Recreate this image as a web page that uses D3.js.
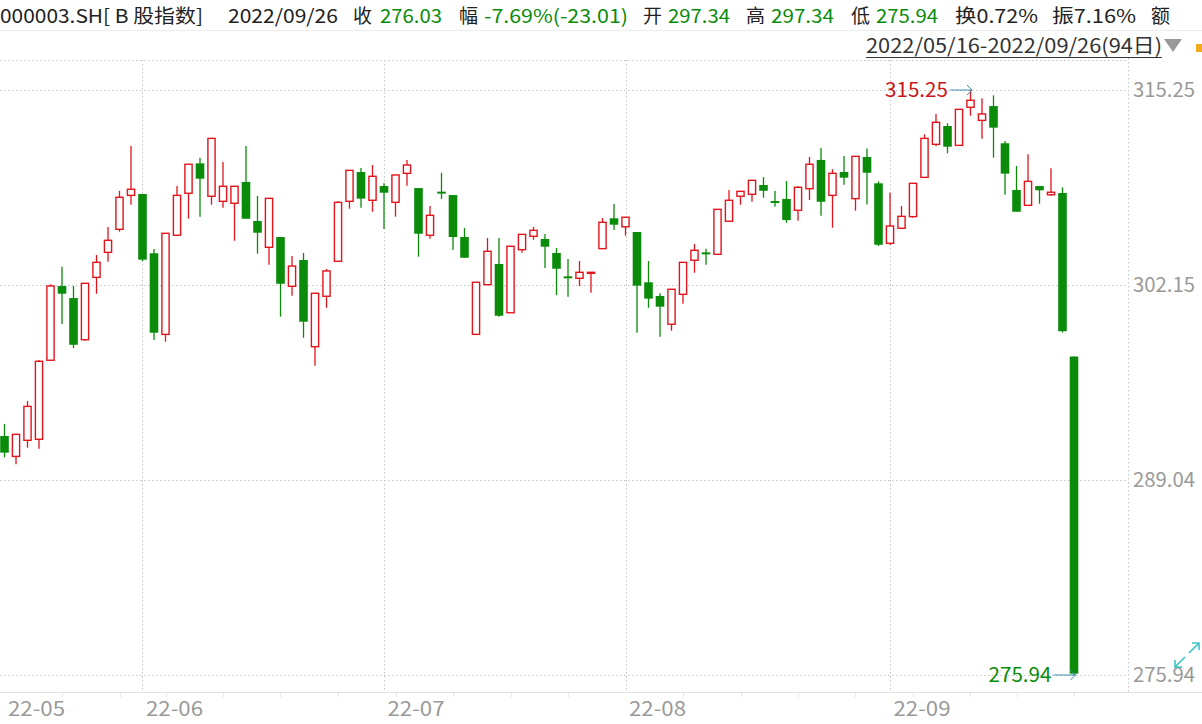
<!DOCTYPE html>
<html><head><meta charset="utf-8">
<script src="https://cdn.jsdelivr.net/npm/d3@7/dist/d3.min.js"></script>
<style>html,body{margin:0;padding:0;background:#fff;}svg{display:block;}</style>
</head><body>
<svg id="c" width="1202" height="724"></svg>
<script>
// ---------- DATA ----------
const dates = [
"05/16","05/17","05/18","05/19","05/20","05/23","05/24","05/25","05/26","05/27","05/30","05/31",
"06/01","06/02","06/06","06/07","06/08","06/09","06/10","06/13","06/14","06/15","06/16","06/17","06/20","06/21","06/22","06/23","06/24","06/27","06/28","06/29","06/30",
"07/01","07/04","07/05","07/06","07/07","07/08","07/11","07/12","07/13","07/14","07/15","07/18","07/19","07/20","07/21","07/22","07/25","07/26","07/27","07/28","07/29",
"08/01","08/02","08/03","08/04","08/05","08/08","08/09","08/10","08/11","08/12","08/15","08/16","08/17","08/18","08/19","08/22","08/23","08/24","08/25","08/26","08/29","08/30","08/31",
"09/01","09/02","09/05","09/06","09/07","09/08","09/09","09/13","09/14","09/15","09/16","09/19","09/20","09/21","09/22","09/23","09/26"];
const year = "2022";
const weekStarts = ["05/23","05/30","06/06","06/13","06/20","06/27","07/04","07/11","07/18","07/25","08/08","08/15","08/22","08/29","09/05","09/13","09/19","09/26"];
const monthLabels = ["22-05","22-06","22-07","22-08","22-09"];
const monthFirst  = ["05/16","06/01","07/01","08/01","09/01"];

const open = [292.00,290.63,291.71,291.78,297.09,302.08,301.27,298.47,302.66,304.34,
305.89,308.17,308.26,304.28,298.83,305.49,308.31,310.32,308.11,307.77,
307.64,309.07,306.45,304.68,305.37,302.06,303.83,298.00,301.39,303.74,
307.77,309.74,307.84,308.80,307.70,309.65,308.66,305.49,308.42,308.19,
305.37,298.83,302.17,303.56,300.28,304.52,305.42,305.24,304.30,302.73,
302.60,302.93,304.59,306.63,306.06,305.71,302.33,301.41,299.51,301.52,
303.81,304.34,304.21,306.43,308.11,308.24,308.87,307.79,307.93,307.17,
308.62,310.55,308.17,309.74,307.95,310.75,308.98,304.95,305.96,306.74,
309.38,311.60,312.83,311.53,314.09,313.21,314.17,311.67,308.53,307.50,
308.80,308.21,308.33,297.34];
const high = [292.81,292.11,294.35,297.11,302.19,303.38,302.08,302.26,304.16,306.04,
308.48,311.49,308.26,304.57,305.62,308.80,310.26,310.70,312.00,310.41,
308.78,311.49,308.13,307.97,305.37,304.09,304.30,301.59,303.22,307.79,
309.85,310.01,310.21,308.98,309.54,310.55,308.66,307.45,309.69,308.19,
305.98,302.33,305.30,305.30,304.75,305.55,306.04,305.57,304.63,303.89,
303.76,303.00,306.65,307.59,306.70,305.71,303.76,301.59,301.86,303.67,
304.90,304.59,307.23,308.53,308.44,309.18,309.40,308.46,309.13,308.80,
310.75,311.35,309.92,310.81,310.79,311.32,309.11,308.35,307.45,308.98,
312.27,313.64,313.01,313.95,315.25,314.69,314.89,311.82,310.14,310.93,
308.80,309.99,308.71,297.34];
const low = [290.57,290.10,291.21,291.15,297.09,299.53,297.91,298.40,301.56,303.71,
305.73,307.54,303.74,298.45,298.34,305.49,306.60,306.74,307.54,307.34,
305.12,306.60,304.25,303.51,300.02,301.43,298.60,296.72,300.62,303.74,
307.27,307.34,307.07,305.91,306.74,308.82,304.05,305.26,307.93,304.50,
303.98,298.83,302.17,300.02,300.28,304.32,305.19,303.29,301.47,301.36,
302.08,301.63,304.59,305.84,305.46,298.94,300.62,298.67,299.07,300.89,
302.97,303.51,304.21,306.43,307.54,307.74,308.01,307.41,306.33,306.47,
307.86,306.80,306.00,308.89,307.14,307.56,304.77,304.83,305.96,306.67,
309.38,311.47,311.00,311.53,313.52,311.98,310.70,308.21,307.07,307.50,
307.61,308.15,298.95,275.94];
const close = [290.88,292.11,293.99,297.02,302.08,301.56,298.13,302.26,303.67,305.15,
308.04,308.58,303.85,298.94,305.62,308.17,310.26,309.29,312.00,308.78,
308.78,306.60,305.66,307.97,302.23,303.42,299.68,301.59,303.09,307.70,
309.85,307.95,309.45,308.35,309.54,310.21,305.59,306.83,308.35,305.37,
303.98,302.33,304.41,300.08,304.75,305.55,305.82,304.72,303.24,302.66,
303.00,303.00,306.36,306.20,306.70,302.10,301.23,300.69,301.86,303.67,
304.48,304.31,307.23,307.84,308.44,309.18,308.48,307.74,306.51,308.71,
310.26,307.74,309.65,309.36,310.79,309.69,304.85,306.11,306.76,308.98,
312.00,313.08,311.44,313.95,314.56,313.64,312.72,309.63,307.07,309.11,
308.51,308.38,299.04,276.03];
const yTicks = [315.25, 302.15, 289.04, 275.94];
const code = "000003.SH[ B 股指数]";
const turnover = "0.72%";

// ---------- STYLE ----------
const RED = "#e3131b", GREEN = "#0a8c0a", GRID = "#c4c4c4", AX = "#999999", DARK = "#222222";
const FONT = "'Noto Sans CJK SC','Noto Sans',sans-serif";
const FS = 20;

const svg = d3.select("#c");
svg.append("rect").attr("width",1202).attr("height",724).attr("fill","#fff");

const n = dates.length;
const x = d3.scaleLinear().domain([0, n-1]).range([4.5, 1074]);
const y = d3.scaleLinear().domain([d3.min(low), d3.max(high)]).range([675, 90]);
const idx = d => dates.indexOf(d);

function txt(g, px, py, t, col, w, anchor, fs){
  const e = g.append("text").attr("x",px).attr("y",py).attr("fill",col)
    .attr("font-family",FONT).attr("font-size",fs || FS).text(t);
  if (anchor) e.attr("text-anchor",anchor);
  if (w) e.attr("textLength",w).attr("lengthAdjust","spacingAndGlyphs");
  return e;
}

// header
const last = n-1, prev = close[last-1];
const chg = close[last]-prev;
const hItems = [
  [0, code, DARK, 203], [228, year+"/"+dates[last], DARK, 110],
  [353, "收", DARK, 0], [380, close[last].toFixed(2), GREEN, 62],
  [459, "幅", DARK, 0], [484, (chg/prev*100).toFixed(2)+"%("+chg.toFixed(2)+")", GREEN, 144],
  [643, "开", DARK, 0], [668, open[last].toFixed(2), GREEN, 62],
  [746, "高", DARK, 0], [771, high[last].toFixed(2), GREEN, 63],
  [851, "低", DARK, 0], [876, low[last].toFixed(2), GREEN, 62],
  [955, "换"+turnover, DARK, 83],
  [1052, "振"+((high[last]-low[last])/prev*100).toFixed(2)+"%", DARK, 84],
  [1151, "额", DARK, 0]
];
hItems.forEach(([px,t,c,w]) => txt(svg, px, 23, t, c, w, null, 19));
svg.append("line").attr("x1",0).attr("x2",1202).attr("y1",30.5).attr("y2",30.5).attr("stroke","#ececec");

txt(svg, 866, 53, year+"/"+dates[0]+"-"+year+"/"+dates[last]+"("+n+"日)", "#333", 296);
svg.append("line").attr("x1",866).attr("x2",1162).attr("y1",57.5).attr("y2",57.5).attr("stroke","#333").attr("stroke-width",1);
svg.append("path").attr("d","M1164,39L1182,39L1173,52Z").attr("fill","#999");
svg.append("rect").attr("x",1196).attr("y",44).attr("width",6).attr("height",8).attr("fill","#f4a81d");

// grid
const grid = svg.append("g").attr("stroke",GRID).attr("stroke-dasharray","1.5,2.5").attr("stroke-width",1);
grid.append("line").attr("x1",0).attr("x2",1128).attr("y1",60.5).attr("y2",60.5);
yTicks.forEach(v => grid.append("line").attr("x1",0).attr("x2",1128)
  .attr("y1",Math.round(y(v))+0.5).attr("y2",Math.round(y(v))+0.5));
monthFirst.slice(1).forEach(d => {
  const xx = Math.round(x(idx(d)))+0.5;
  grid.append("line").attr("x1",xx).attr("x2",xx).attr("y1",60).attr("y2",692);
});
grid.append("line").attr("x1",1128.5).attr("x2",1128.5).attr("y1",58).attr("y2",692);

// bottom axis
svg.append("line").attr("x1",0).attr("x2",1202).attr("y1",692.5).attr("y2",692.5).attr("stroke","#e2e2e2");
weekStarts.forEach(d => {
  const xx = Math.round(x(idx(d)))+0.5;
  svg.append("line").attr("x1",xx).attr("x2",xx).attr("y1",693).attr("y2",697).attr("stroke","#e4e4e4");
});
monthLabels.forEach((m,i) => txt(svg, x(idx(monthFirst[i]))+3.5, 716, m, AX, 57));
// right axis labels
yTicks.forEach(v => txt(svg, 1133, y(v)+7, v.toFixed(2), AX, 62));

// candles
const cg = svg.append("g");
d3.range(n).forEach(i => {
  const cx = x(i), o = open[i], c = close[i], h = high[i], l = low[i];
  const top = y(Math.max(o,c)), bot = y(Math.min(o,c));
  if (c > o) {
    cg.append("line").attr("x1",cx).attr("x2",cx).attr("y1",y(h)).attr("y2",top).attr("stroke",RED).attr("stroke-width",1.3);
    cg.append("line").attr("x1",cx).attr("x2",cx).attr("y1",bot).attr("y2",y(l)).attr("stroke",RED).attr("stroke-width",1.3);
    cg.append("rect").attr("x",cx-3.6).attr("y",top).attr("width",7.2).attr("height",Math.max(bot-top,1))
      .attr("fill","#fff").attr("stroke",RED).attr("stroke-width",1.4);
  } else {
    cg.append("line").attr("x1",cx).attr("x2",cx).attr("y1",y(h)).attr("y2",y(l)).attr("stroke",GREEN).attr("stroke-width",1.3);
    cg.append("rect").attr("x",cx-4.3).attr("y",top).attr("width",8.6).attr("height",Math.max(bot-top,2))
      .attr("fill",GREEN);
  }
});

// max / min annotations
const iMax = high.indexOf(d3.max(high)), iMin = low.indexOf(d3.min(low));
function annot(i, v, col){
  const yy = y(v), x2 = x(i)+1.5, x1 = x2-22;
  svg.append("line").attr("x1",x1).attr("x2",x2).attr("y1",yy).attr("y2",yy).attr("stroke","#3f8fae").attr("stroke-width",1);
  svg.append("path").attr("d",`M${x2-5},${yy-5}L${x2},${yy}L${x2-5},${yy+5}`).attr("fill","none").attr("stroke","#3f8fae").attr("stroke-width",1);
  txt(svg, x1-2, yy+7, v.toFixed(2), col, 63, "end");
}
annot(iMax, high[iMax], "#c8161e");
annot(iMin, low[iMin], GREEN);

// expand icon
const ic = svg.append("g").attr("stroke","#3cc6c6").attr("stroke-width",1.6).attr("fill","none");
ic.append("path").attr("d","M1189,653L1199,643M1192,643L1199,643L1199,650");
ic.append("path").attr("d","M1185,657L1175,667M1175,660L1175,667L1182,667");
</script>
</body></html>
